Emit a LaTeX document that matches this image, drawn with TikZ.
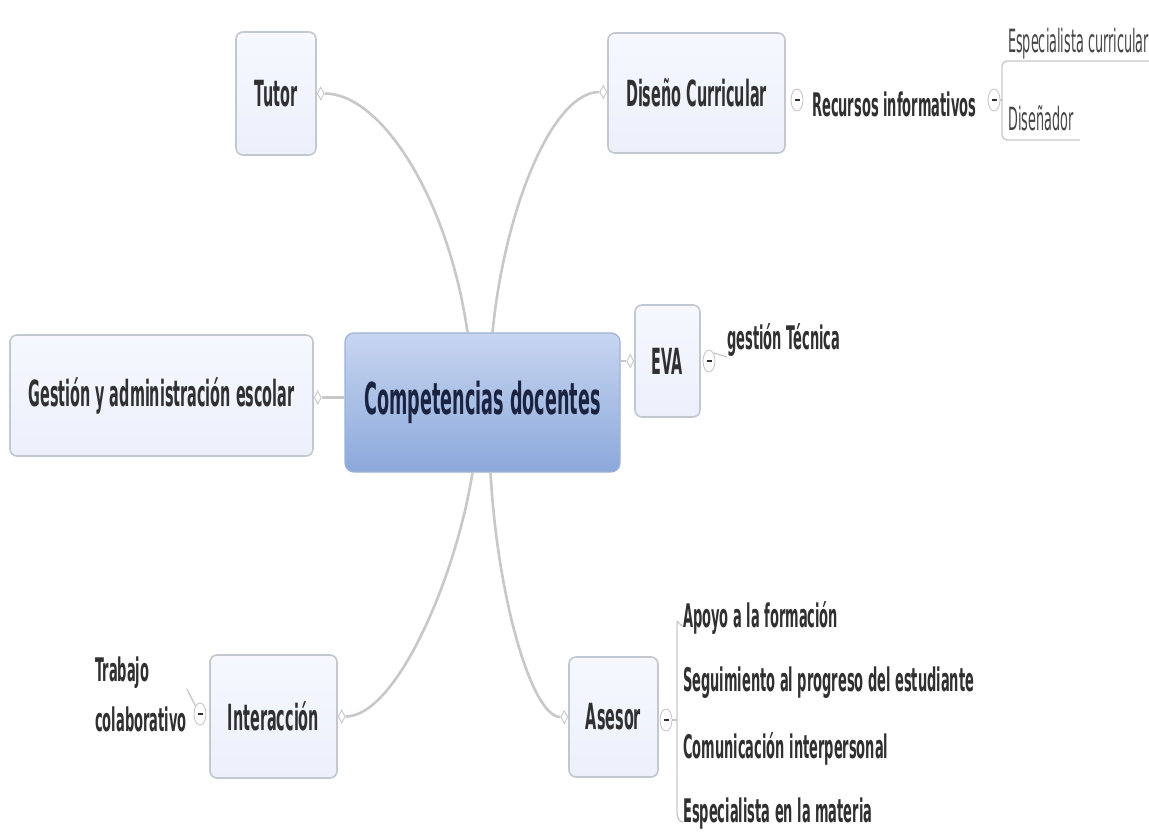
\documentclass[tikz,border=0pt]{standalone}
\usepackage{fontspec}
\setmainfont{DejaVu Sans}[FakeStretch=0.40]
\usetikzlibrary{shapes.geometric}

\definecolor{boxfill}{HTML}{EBF0FB}
\definecolor{boxtop}{HTML}{F6F8FE}
\definecolor{boxline}{HTML}{C3C7CF}
\definecolor{ctop}{HTML}{C8D6F0}
\definecolor{cbot}{HTML}{8BA8DB}
\definecolor{cline}{HTML}{9CB2D9}
\definecolor{ctext}{HTML}{1A2440}
\definecolor{txt}{HTML}{303030}
\definecolor{softtxt}{HTML}{454545}
\definecolor{linkgray}{HTML}{C8C8C8}

\newcommand\corefont{\fontsize{44}{50}\selectfont\bfseries}
\newcommand\topicfont{\fontsize{36}{42}\selectfont\bfseries}
\newcommand\leaffont{\fontsize{32.5}{38}\selectfont\bfseries}
\newcommand\twolinefont{\fontsize{32.5}{50}\selectfont\bfseries}
\newcommand\plainfont{\fontsize{32}{38}\selectfont}
\newcommand\tglmark{\rule{5pt}{2.2pt}}

\tikzset{
  core/.style={draw=cline, line width=1.2pt, rounded corners=9pt,
    top color=ctop, bottom color=cbot, text=ctext, font=\corefont, inner sep=0pt},
  topic/.style={draw=boxline, line width=1.6pt, rounded corners=7pt,
    top color=boxtop, bottom color=boxfill, text=txt, font=\topicfont, inner sep=0pt},
  leaf/.style={text=txt, font=\leaffont, inner sep=0pt},
  plainleaf/.style={text=softtxt, font=\plainfont, inner sep=0pt},
  link/.style={draw=linkgray, line width=2.6pt},
  sublink/.style={draw=linkgray, line width=1.3pt},
  handle/.style={diamond, draw=linkgray, fill=white, line width=0.9pt,
    minimum width=7pt, minimum height=13pt, inner sep=0pt},
  toggle/.style={ellipse, draw=linkgray, fill=white, line width=0.9pt,
    minimum width=12pt, minimum height=22pt, inner sep=0pt, text=txt},
}

\begin{document}
\begin{tikzpicture}[x=1pt,y=-1pt]
\useasboundingbox (0,0) rectangle (1149,836);
\fill[white] (0,0) rectangle (1149,836);

% main topics
\node[core, minimum width=275pt, minimum height=139pt] (core) at (482.5,402.5) {Competencias docentes};
\node[topic, minimum width=80pt, minimum height=123pt] (tutor) at (276,93.5) {Tutor};
\node[topic, minimum width=177pt, minimum height=120pt] (diseno) at (696.5,93) {Diseño Curricular};
\node[topic, minimum width=65pt, minimum height=112pt] (eva) at (667.5,361) {EVA};
\node[topic, minimum width=303pt, minimum height=121pt] (gestion) at (161.5,395.5) {Gestión y administración escolar};
\node[topic, minimum width=127pt, minimum height=123pt] (inter) at (273.5,716.5) {Interacción};
\node[topic, minimum width=89pt, minimum height=120pt] (asesor) at (613.5,717) {Asesor};

% attachment handles
\node[handle, anchor=west] (hT) at (tutor.east) {};
\node[handle, anchor=east] (hD) at ([yshift=1pt]diseno.west) {};
\node[handle, anchor=east] (hE) at (eva.west) {};
\node[handle, anchor=west] (hG) at ([yshift=-2pt]gestion.east) {};
\node[handle, anchor=west] (hI) at (inter.east) {};
\node[handle, anchor=east] (hA) at (asesor.west) {};

% curved branches from the central topic
\draw[link] ([xshift=-15pt]core.north) .. controls +(-19,-133) and +(57,0) .. (hT.east);
\draw[link] ([xshift=10pt]core.north) .. controls +(12,-123) and +(-47,0) .. (hD.west);
\draw[link] ([xshift=-10pt]core.south) .. controls +(-17,107) and +(50,0) .. (hI.east);
\draw[link] ([xshift=8pt]core.south) .. controls +(7,127) and +(-28,0) .. (hA.west);
\draw[link] (core.west |- hG.east) -- (hG.east);
\draw[link] (core.east |- hE.west) -- (hE.west);

% Diseño Curricular branch
\node[toggle] (tD) at (797,100) {\tglmark};
\node[leaf, anchor=west] (recursos) at (812,104) {Recursos informativos};
\node[toggle] (tR) at (994,100) {\tglmark};
\node[plainleaf, anchor=base west] (esp) at (1008,52) {Especialista curricular};
\node[plainleaf, anchor=base west] (dis) at (1008,130) {Diseñador};
\coordinate (espU) at (1149,61);
\coordinate (disU) at (1080,140);
\draw[sublink, rounded corners=5pt] (espU) -- (1002,61) -- (1002,140) -- (disU);
\draw[sublink] (tR.east) -- (1002,100);

% EVA branch
\node[toggle] (tE) at (709,361) {\tglmark};
\node[leaf, anchor=south west] (gt) at (727,357) {gestión Técnica};
\draw[sublink] (tE.north east) -- (gt.south west);

% Interacción branch
\node[toggle] (tI) at (200,714) {\tglmark};
\node[anchor=north west, align=left, text=txt, font=\twolinefont, inner sep=0pt] (trab) at (95,657) {Trabajo\\colaborativo};
\draw[sublink] (tI.north west) -- ([yshift=6pt]trab.east);

% Asesor branch
\node[toggle] (tA) at (666,720) {\tglmark};
\node[leaf, anchor=west] (a1) at (683,618) {Apoyo a la formación};
\node[leaf, anchor=west] (a2) at (683,683) {Seguimiento al progreso del estudiante};
\node[leaf, anchor=west] (a3) at (683,749) {Comunicación interpersonal};
\node[leaf, anchor=west] (a4) at (683,814) {Especialista en la materia};
\draw[sublink] ([yshift=-8pt]a1.west) to[out=180,in=90] (677,622) -- (677,812) to[out=-90,in=180] ([yshift=-8pt]a4.west);
\draw[sublink] (tA.east) -- (677,720);
\end{tikzpicture}
\end{document}
